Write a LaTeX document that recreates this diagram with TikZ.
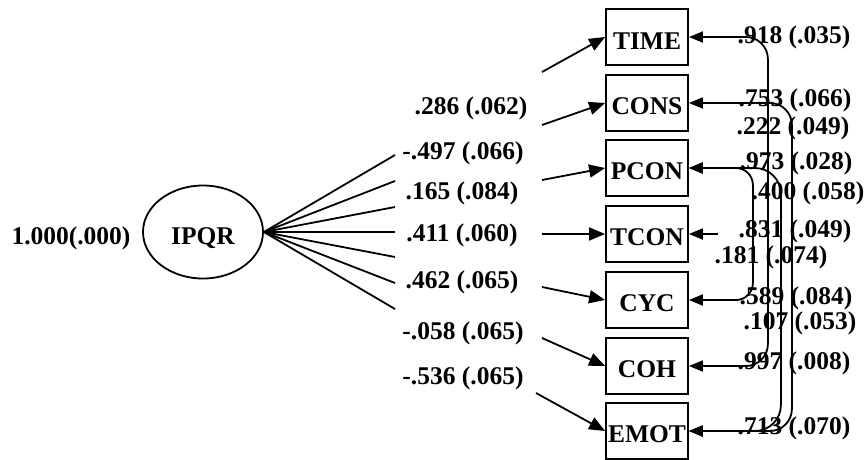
\documentclass[tikz,border=0pt]{standalone}
\usepackage{fontspec}
\setmainfont{Liberation Serif}
\usetikzlibrary{shapes.geometric,arrows.meta}
\begin{document}
\begin{tikzpicture}[x=1pt,y=-1pt,
  every node/.style={font=\fontsize{25.5}{28}\selectfont\bfseries},
  obs/.style={draw,line width=1.8pt,minimum width=82pt,minimum height=56pt,inner sep=0pt,text height=24pt},
  lat/.style={draw,ellipse,line width=1.8pt,minimum width=120pt,minimum height=93pt,inner sep=0pt,text height=30pt},
  link/.style={line width=1.8pt},
  arr/.style={line width=1.8pt,-{Triangle[length=16pt,width=13pt]}},
  corr/.style={line width=1.8pt,{Triangle[length=14pt,width=11pt]}-{Triangle[length=14pt,width=11pt]},rounded corners=22pt},
  lab/.style={inner sep=0pt}]
\useasboundingbox (0,0) rectangle (868,459);

% latent factor
\node[lat] (IPQR) at (203,232) {IPQR};
\node[lab] (vIPQR) at (71,238) {1.000(.000)};

% indicators
\node[obs] (TIME) at (647,37)  {TIME};
\node[obs] (CONS) at (647,103) {CONS};
\node[obs] (PCON) at (647,168) {PCON};
\node[obs] (TCON) at (647,234) {TCON};
\node[obs] (CYC)  at (647,300) {CYC};
\node[obs] (COH)  at (647,366) {COH};
\node[obs] (EMOT) at (647,431) {EMOT};

% fan of loading lines leaving the factor
\coordinate (f1) at (395,155);
\coordinate (f2) at (395,181);
\coordinate (f3) at (395,207);
\coordinate (f4) at (395,232);
\coordinate (f5) at (395,257);
\coordinate (f6) at (395,283);
\coordinate (f7) at (395,309);
\foreach \i in {1,...,7}{\draw[link] (IPQR.east) -- (f\i);}

% loading arrows into the indicators
\coordinate (a1) at (542,72);
\coordinate (a2) at (542,125);
\coordinate (a3) at (542,180);
\coordinate (a4) at (542,234);
\coordinate (a5) at (542,287);
\coordinate (a6) at (542,338);
\coordinate (a7) at (536,393);
\draw[arr] (a1) -- (TIME.west);
\draw[arr] (a2) -- (CONS.west);
\draw[arr] (a3) -- (PCON.west);
\draw[arr] (a4) -- (TCON.west);
\draw[arr] (a5) -- (CYC.west);
\draw[arr] (a6) -- (COH.west);
\draw[arr] (a7) -- (EMOT.west);

% loading estimates
\node[lab] (l1) at (471,108) {.286 (.062)};
\node[lab] (l2) at (463,153) {-.497 (.066)};
\node[lab] (l3) at (462,193) {.165 (.084)};
\node[lab] (l4) at (462,235) {.411 (.060)};
\node[lab] (l5) at (462,282) {.462 (.065)};
\node[lab] (l6) at (463,333) {-.058 (.065)};
\node[lab] (l7) at (463,378) {-.536 (.065)};

% residual correlations
\draw[corr] (TIME.east) -| ([xshift=79pt]COH.east) -- (COH.east);
\draw[corr] (CONS.east) -| ([xshift=103pt]EMOT.east) -- (EMOT.east);
\draw[corr,rounded corners=17pt] (PCON.east) -| ([xshift=64pt]CYC.east) -- (CYC.east);
\draw[corr,rounded corners=26pt] (PCON.east) -| ([xshift=92pt]EMOT.east) -- (EMOT.east);
\coordinate (eTCON) at (718,234);
\draw[line width=1.8pt,-{Triangle[length=14pt,width=11pt]}] (eTCON) -- (TCON.east);

% residual variances and correlations
\node[lab] (r1) at (794,37)  {.918 (.035)};
\node[lab] (r2) at (795,100) {.753 (.066)};
\node[lab] (r3) at (793,128) {.222 (.049)};
\node[lab] (r4) at (796,163) {.973 (.028)};
\node[lab] (r5) at (808,193) {.400 (.058)};
\node[lab] (r6) at (795,231) {.831 (.049)};
\node[lab] (r7) at (771,257) {.181 (.074)};
\node[lab] (r8) at (796,298) {.589 (.084)};
\node[lab] (r9) at (800,323) {.107 (.053)};
\node[lab] (r10) at (794,363) {.997 (.008)};
\node[lab] (r11) at (794,428) {.713 (.070)};
\end{tikzpicture}
\end{document}
